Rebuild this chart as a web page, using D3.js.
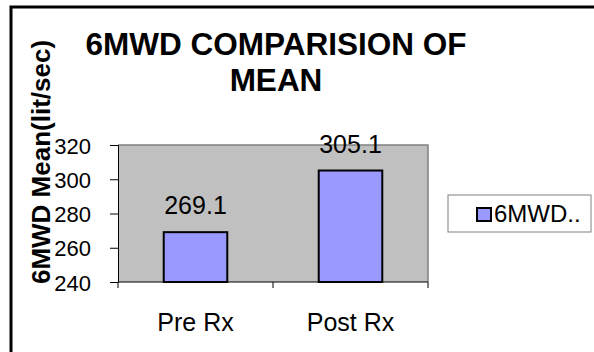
<!DOCTYPE html>
<html>
<head>
<meta charset="utf-8">
<script src="https://cdn.jsdelivr.net/npm/d3@7"></script>
<style>
  html, body { margin: 0; padding: 0; background: #fff; }
  svg { display: block; font-family: "Liberation Sans", Arial, sans-serif; }
</style>
</head>
<body>
<svg id="chart" width="594" height="352"></svg>
<script>
// Chart data
const categories = ["Pre Rx", "Post Rx"];
const meanValues = [269.1, 305.1];
const yTicks = [240, 260, 280, 300, 320];
const seriesName = "6MWD..";
const titleLines = ["6MWD COMPARISION OF", "MEAN"];
const yAxisTitle = "6MWD Mean(lit/sec)";

const svg = d3.select("#chart");

// Page background and outer chart frame (runs off the right and bottom edges)
svg.append("rect").attr("width", 594).attr("height", 352).attr("fill", "#fff");
svg.append("rect")
  .attr("x", 11).attr("y", 7).attr("width", 700).attr("height", 400)
  .attr("fill", "none").attr("stroke", "#000").attr("stroke-width", 3);

// Plot geometry
const plot = { left: 118, right: 428, top: 145, bottom: 282 };

const x = d3.scaleBand().domain(categories).range([plot.left, plot.right]).padding(0);
const y = d3.scaleLinear().domain([240, 320]).range([plot.bottom, plot.top]);
const barWidth = x.bandwidth() * 0.41;

// Grey plot area
svg.append("rect")
  .attr("x", plot.left).attr("y", plot.top)
  .attr("width", plot.right - plot.left).attr("height", plot.bottom - plot.top)
  .attr("fill", "#c0c0c0");
svg.append("path")
  .attr("d", `M${plot.left},${plot.top}H${plot.right}V${plot.bottom}`)
  .attr("fill", "none").attr("stroke", "#808080").attr("stroke-width", 1.5);

// Bars
svg.append("g").selectAll("rect")
  .data(categories)
  .join("rect")
  .attr("x", (d) => x(d) + (x.bandwidth() - barWidth) / 2)
  .attr("y", (d, i) => y(meanValues[i]))
  .attr("width", barWidth)
  .attr("height", (d, i) => y(240) - y(meanValues[i]))
  .attr("fill", "#9999ff")
  .attr("stroke", "#000")
  .attr("stroke-width", 2);

// Value labels
svg.append("g").selectAll("text")
  .data(categories)
  .join("text")
  .attr("x", (d) => x(d) + x.bandwidth() / 2)
  .attr("y", (d, i) => y(meanValues[i]) - 18)
  .attr("text-anchor", "middle")
  .attr("font-size", 25)
  .attr("fill", "#000")
  .text((d, i) => meanValues[i].toFixed(1));

// Y axis
const yAxis = d3.axisLeft(y).tickValues(yTicks).tickSize(8).tickPadding(19).tickFormat(d3.format("d"));
const gy = svg.append("g").attr("transform", `translate(${plot.left},0)`).call(yAxis);
gy.select(".domain").attr("stroke", "#000");
gy.selectAll(".tick line").attr("stroke", "#000");
gy.selectAll(".tick text")
  .attr("font-size", 22).attr("font-family", "Liberation Sans, Arial, sans-serif")
  .attr("fill", "#000").attr("dy", 8);

// X axis with category boundary ticks
const gx = svg.append("g").attr("transform", `translate(0,${plot.bottom})`);
gx.append("line").attr("x1", plot.left).attr("x2", plot.right).attr("stroke", "#000");
const boundaries = categories.map((d) => x(d)).concat([x(categories[categories.length - 1]) + x.bandwidth()]);
gx.selectAll("line.tk")
  .data(boundaries)
  .join("line")
  .attr("class", "tk")
  .attr("x1", (d) => d).attr("x2", (d) => d)
  .attr("y1", 0).attr("y2", 6)
  .attr("stroke", "#000");
gx.selectAll("text")
  .data(categories)
  .join("text")
  .attr("x", (d) => x(d) + x.bandwidth() / 2)
  .attr("y", 49)
  .attr("text-anchor", "middle")
  .attr("font-size", 25)
  .attr("fill", "#000")
  .text((d) => d);

// Title
svg.append("g").selectAll("text")
  .data(titleLines)
  .join("text")
  .attr("x", 276)
  .attr("y", (d, i) => 55 + i * 36)
  .attr("text-anchor", "middle")
  .attr("font-size", 31.5)
  .attr("font-weight", "bold")
  .attr("fill", "#000")
  .text((d) => d);

// Y axis title
svg.append("text")
  .attr("transform", "translate(50,162) rotate(-90)")
  .attr("text-anchor", "middle")
  .attr("font-size", 26)
  .attr("font-weight", "bold")
  .attr("fill", "#000")
  .text(yAxisTitle);

// Legend
const legend = svg.append("g");
legend.append("rect")
  .attr("x", 448).attr("y", 195).attr("width", 143).attr("height", 37)
  .attr("fill", "#fff").attr("stroke", "#808080").attr("stroke-width", 1);
legend.append("rect")
  .attr("x", 477).attr("y", 208).attr("width", 14).attr("height", 13)
  .attr("fill", "#9999ff").attr("stroke", "#000").attr("stroke-width", 2);
legend.append("text")
  .attr("x", 494).attr("y", 222)
  .attr("font-size", 24)
  .attr("fill", "#000")
  .text(seriesName);
</script>
</body>
</html>
